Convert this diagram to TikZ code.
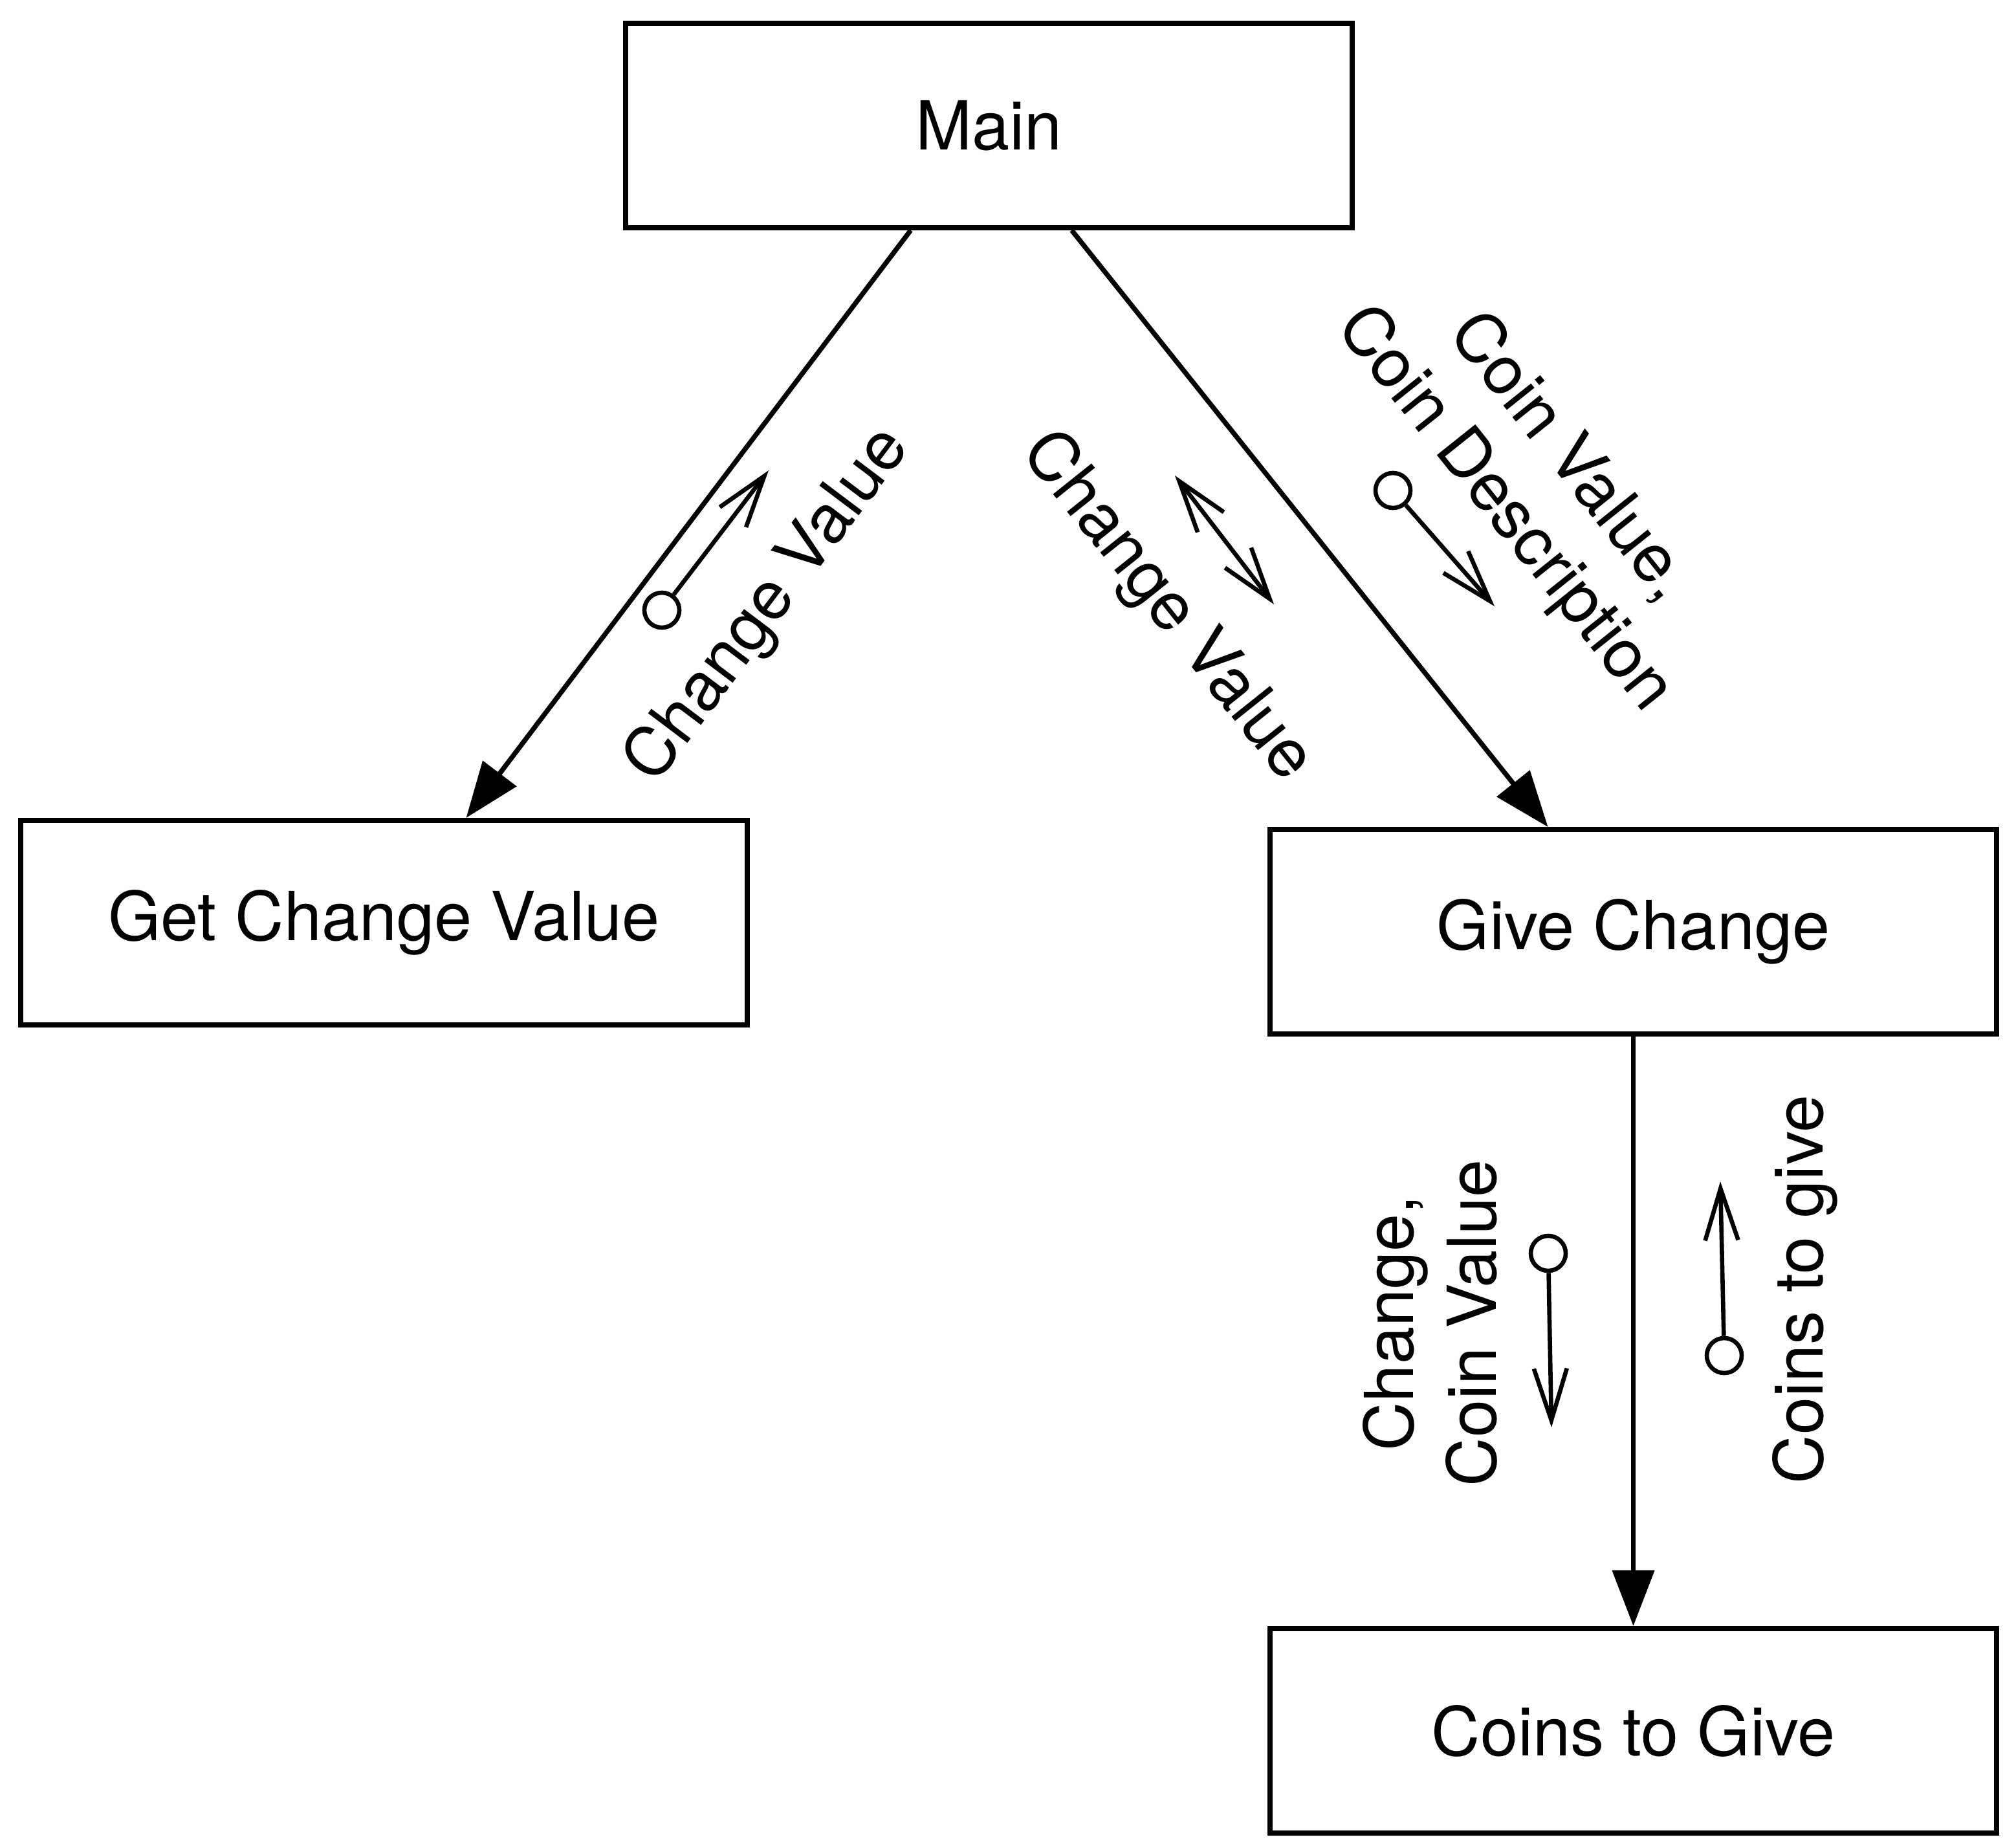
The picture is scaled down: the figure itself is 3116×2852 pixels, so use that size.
\documentclass[tikz,border=0pt]{standalone}
\usepackage{fontspec}
\setmainfont{TeX Gyre Heros}
\usetikzlibrary{arrows.meta,calc}
\begin{document}
\begin{tikzpicture}[x=0.01cm,y=-0.01cm,
  txt/.style={font=\fontsize{29.7pt}{36.4pt}\selectfont},
  box/.style={txt, draw, line width=0.078cm, minimum width=11.23cm, minimum height=3.16cm, inner sep=0pt},
  conn/.style={line width=0.075cm, -{Triangle[length=0.86cm,width=0.64cm]}},
  lbl/.style={txt, inner sep=0pt, align=center},
  dot/.style={draw, circle, line width=0.066cm, minimum size=0.54cm, inner sep=0pt},
  flow/.style={line width=0.066cm, line join=miter, -{Straight Barb[length=0.8cm,width=0.51cm]}},
  flowboth/.style={line width=0.066cm, line join=miter, {Straight Barb[length=0.8cm,width=0.51cm]}-{Straight Barb[length=0.8cm,width=0.51cm]}},
]
\useasboundingbox (0,0) rectangle (3116,2852);

% boxes
\node[box] (main) at (1528.5,194) {Main};
\node[box] (gcv)  at (593.5,1426) {Get Change Value};
\node[box] (gc)   at (2524.5,1440) {Give Change};
\node[box] (ctg)  at (2524.5,2675) {Coins to Give};

% connectors
\draw[conn] ($(main.south)+(-121,0)$) -- ($(gcv.north)+(127,0)$);
\draw[conn] ($(main.south)+(128,0)$) -- ($(gc.north)+(-132,0)$);
\draw[conn] (gc.south) -- (ctg.north);

% labels
\node[lbl, rotate=53] (l1) at (1188,936) {Change Value};
\node[lbl, rotate=-51.4] (l2) at (1803,938) {Change Value};
\node[lbl, rotate=-51.4] (l3) at (2374,748) {Coin Value,\\Coin Description};
\node[lbl, rotate=90] (l4) at (2210,2045) {Change,\\Coin Value};
\node[lbl, rotate=90] (l5) at (2790,1993) {Coins to give};

% data flows
\node[dot] (c1) at (1023,943) {};
\coordinate (t1) at (1188,727);
\draw[flow] (c1) -- (t1);

\node[dot] (c2) at (2153,758) {};
\coordinate (t2) at (2310,937);
\draw[flow] (c2) -- (t2);

\node[dot] (c3) at (2393,1937) {};
\coordinate (t3) at (2398,2206);
\draw[flow] (c3) -- (t3);

\node[dot] (c4) at (2665,2095) {};
\coordinate (t4) at (2659,1826);
\draw[flow] (c4) -- (t4);

\coordinate (d1) at (1816,735);
\coordinate (d2) at (1969,934);
\draw[flowboth] (d1) -- (d2);
\end{tikzpicture}
\end{document}
